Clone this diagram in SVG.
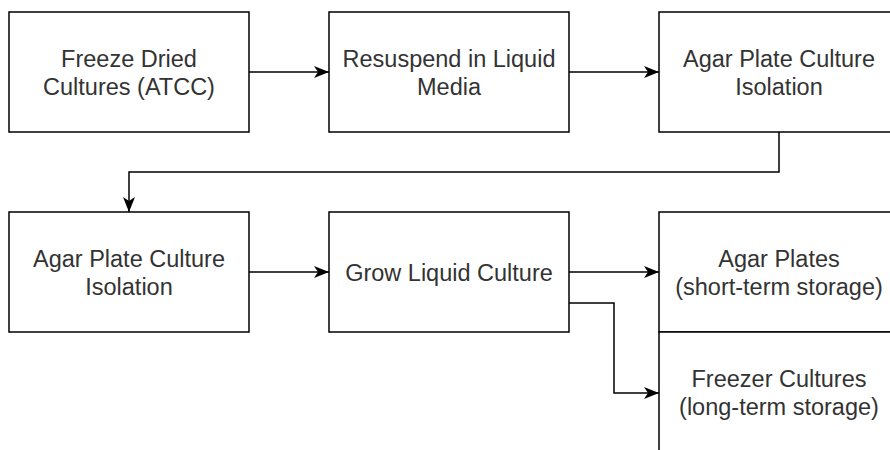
<svg xmlns="http://www.w3.org/2000/svg" width="890" height="450" viewBox="0 0 890 450">
<style>
.box{fill:#fff;stroke:#000;stroke-width:1.5}
.t{font-family:"Liberation Sans",Arial,sans-serif;font-size:23.5px;fill:#333;text-anchor:middle}
.c{fill:none;stroke:#000;stroke-width:1.5}
</style>
<defs>
<marker id="arr" viewBox="0 0 15 12" refX="15" refY="6" markerWidth="15" markerHeight="12" markerUnits="userSpaceOnUse" orient="auto">
<path d="M0,0 L15,6 L0,12 L4,6 Z" fill="#000"/>
</marker>
</defs>
<rect width="890" height="450" fill="#fff"/>
<g id="n1"><rect class="box" x="9" y="12" width="240" height="120"/>
<text class="t" x="129" y="67">Freeze Dried</text><text class="t" x="129" y="95">Cultures (ATCC)</text></g>
<g id="n2"><rect class="box" x="329" y="12" width="240" height="120"/>
<text class="t" x="449" y="67">Resuspend in Liquid</text><text class="t" x="449" y="95">Media</text></g>
<g id="n3"><rect class="box" x="659" y="12" width="240" height="120"/>
<text class="t" x="779" y="67">Agar Plate Culture</text><text class="t" x="779" y="95">Isolation</text></g>
<g id="n4"><rect class="box" x="9" y="212" width="240" height="120"/>
<text class="t" x="129" y="267">Agar Plate Culture</text><text class="t" x="129" y="295">Isolation</text></g>
<g id="n5"><rect class="box" x="329" y="212" width="240" height="120"/>
<text class="t" x="449" y="281">Grow Liquid Culture</text></g>
<g id="n6"><rect class="box" x="659" y="212" width="240" height="120"/>
<text class="t" x="779" y="267">Agar Plates</text><text class="t" x="779" y="295">(short-term storage)</text></g>
<g id="n7"><rect class="box" x="659" y="332" width="240" height="120"/>
<text class="t" x="779" y="387">Freezer Cultures</text><text class="t" x="779" y="415">(long-term storage)</text></g>
<g id="connectors">
<path class="c" d="M249,72 H329" marker-end="url(#arr)"/>
<path class="c" d="M569,72 H659" marker-end="url(#arr)"/>
<path class="c" d="M779,132 V172 H129 V212" marker-end="url(#arr)"/>
<path class="c" d="M249,272 H329" marker-end="url(#arr)"/>
<path class="c" d="M569,272 H659" marker-end="url(#arr)"/>
<path class="c" d="M569,303 H614 V393 H659" marker-end="url(#arr)"/>
</g>
</svg>
